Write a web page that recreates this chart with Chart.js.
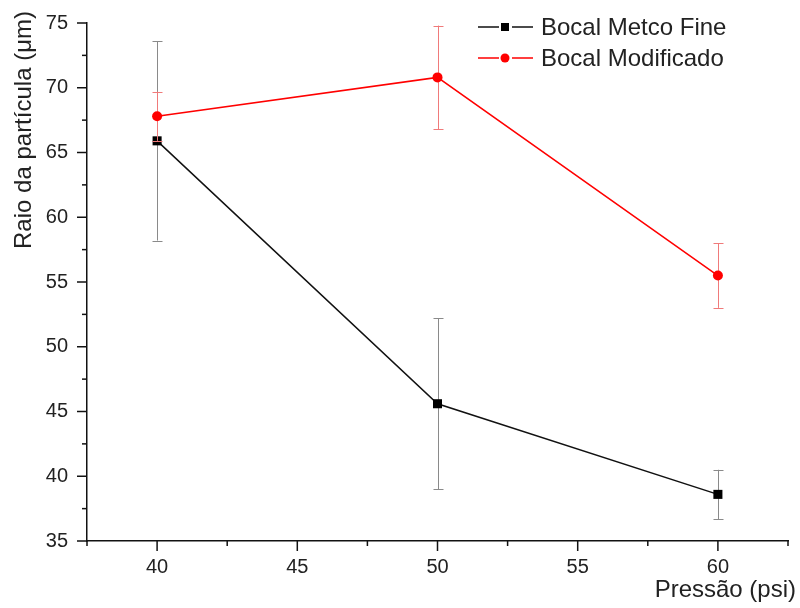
<!DOCTYPE html>
<html>
<head>
<meta charset="utf-8">
<script src="https://cdn.jsdelivr.net/npm/chart.js@4/dist/chart.umd.min.js"></script>
<style>
html,body{margin:0;padding:0;background:#fff;}
#wrap{width:800px;height:608px;position:relative;}
</style>
</head>
<body>
<div id="wrap"><canvas id="c" width="800" height="608"></canvas></div>
<script>
const pressures = [40, 50, 60];
const metcoValues = [65.9, 45.6, 38.6];
const metcoErrors = [7.7, 6.6, 1.9];
const modValues = [67.8, 70.8, 55.5];
const modErrors = [1.9, 4.0, 2.5];
const seriesLabels = ['Bocal Metco Fine', 'Bocal Modificado'];
const xAxisTitle = 'Pressão (psi)';
const yAxisTitle = 'Raio da partícula (μm)';
const xRange = [37.5, 62.5];
const yRange = [35, 75];

const FONT = 'Arial, "Liberation Sans", sans-serif';

function toPoints(xs, ys) { return xs.map((x, i) => ({x: x, y: ys[i]})); }

const errorPlugin = {
  id: 'errorBars',
  beforeDatasetDraw(chart, args) {
    const ds = chart.data.datasets[args.index];
    if (!ds.errors) return;
    const ctx = chart.ctx, xs = chart.scales.x, ys = chart.scales.y;
    ctx.save();
    ctx.strokeStyle = ds.errorColor;
    ctx.lineWidth = 1;
    ds.data.forEach((p, i) => {
      const e = ds.errors[i];
      const px = Math.round(xs.getPixelForValue(p.x)) + 0.5;
      const top = ys.getPixelForValue(p.y + e);
      const bot = ys.getPixelForValue(p.y - e);
      ctx.beginPath();
      ctx.moveTo(px, top); ctx.lineTo(px, bot);
      ctx.moveTo(px - 5, Math.round(top) + 0.5); ctx.lineTo(px + 5, Math.round(top) + 0.5);
      ctx.moveTo(px - 5, Math.round(bot) + 0.5); ctx.lineTo(px + 5, Math.round(bot) + 0.5);
      ctx.stroke();
    });
    ctx.restore();
  }
};

const decorPlugin = {
  id: 'decor',
  afterDraw(chart) {
    const ctx = chart.ctx, xs = chart.scales.x, ys = chart.scales.y;
    const area = chart.chartArea;
    ctx.save();
    ctx.strokeStyle = '#111';
    ctx.lineWidth = 1.5;
    ys.ticks.forEach(t => {
      const v = t.value;
      const py = ys.getPixelForValue(v);
      const len = (Math.abs(v % 5) < 1e-6) ? 10 : 5;
      ctx.beginPath();
      ctx.moveTo(area.left, py); ctx.lineTo(area.left - len, py);
      ctx.stroke();
    });
    xs.ticks.forEach(t => {
      const v = t.value;
      const px = xs.getPixelForValue(v);
      const len = (Math.abs(v % 5) < 1e-6) ? 10 : 5;
      ctx.beginPath();
      ctx.moveTo(px, area.bottom); ctx.lineTo(px, area.bottom + len);
      ctx.stroke();
    });
    ctx.fillStyle = '#222';
    ctx.font = '24px ' + FONT;
    ctx.textAlign = 'right';
    ctx.textBaseline = 'middle';
    ctx.fillText(xAxisTitle, 796, 590);
    ctx.save();
    ctx.translate(24, 130);
    ctx.rotate(-Math.PI / 2);
    ctx.textAlign = 'center';
    ctx.fillText(yAxisTitle, 0, 0);
    ctx.restore();
    const rows = [27, 58];
    chart.data.datasets.slice().sort((a, b) => a.legendIndex - b.legendIndex).forEach((ds, i) => {
      const y = rows[i];
      ctx.strokeStyle = ds.borderColor;
      ctx.lineWidth = 1.5;
      ctx.beginPath();
      ctx.moveTo(478, y); ctx.lineTo(499, y);
      ctx.moveTo(512, y); ctx.lineTo(533, y);
      ctx.stroke();
      ctx.fillStyle = ds.pointBackgroundColor;
      if (ds.pointStyle === 'rect') {
        ctx.fillRect(501, y - 4, 8, 8);
      } else {
        ctx.beginPath(); ctx.arc(505, y, 4.5, 0, Math.PI * 2); ctx.fill();
      }
      ctx.fillStyle = '#222';
      ctx.font = '24px ' + FONT;
      ctx.textAlign = 'left';
      ctx.textBaseline = 'middle';
      ctx.fillText(ds.label, 541, y + 1);
    });
    ctx.restore();
  }
};

new Chart(document.getElementById('c'), {
  type: 'scatter',
  data: {
    datasets: [
      {
        label: seriesLabels[1],
        legendIndex: 1,
        data: toPoints(pressures, modValues),
        errors: modErrors,
        errorColor: '#f07a7a',
        showLine: true,
        borderColor: '#ff0000',
        backgroundColor: '#ff0000',
        pointBackgroundColor: '#ff0000',
        pointBorderColor: '#ff0000',
        borderWidth: 1.5,
        pointStyle: 'circle',
        pointRadius: 5,
        pointBorderWidth: 0
      },
      {
        label: seriesLabels[0],
        legendIndex: 0,
        data: toPoints(pressures, metcoValues),
        errors: metcoErrors,
        errorColor: '#8a8a8a',
        showLine: true,
        borderColor: '#111111',
        backgroundColor: '#000000',
        pointBackgroundColor: '#000000',
        pointBorderColor: '#000000',
        borderWidth: 1.5,
        pointStyle: 'rect',
        pointRadius: 6.4,
        pointBorderWidth: 0
      }
    ]
  },
  options: {
    responsive: false,
    animation: false,
    events: [],
    layout: { padding: { top: 23, right: 12, left: 0, bottom: 0 } },
    plugins: { legend: { display: false }, tooltip: { enabled: false } },
    scales: {
      x: {
        type: 'linear',
        min: xRange[0], max: xRange[1],
        grid: { display: false },
        border: { display: true, color: '#111', width: 1.5 },
        ticks: {
          stepSize: 2.5, autoSkip: false, maxRotation: 0, padding: 6,
          color: '#222', font: { family: FONT, size: 20 },
          callback: v => (Math.abs(v % 5) < 1e-6 ? String(v) : '')
        },
        afterFit: s => { s.height = 67; s.paddingLeft = 0; s.paddingRight = 0; }
      },
      y: {
        type: 'linear',
        min: yRange[0], max: yRange[1],
        grid: { display: false },
        border: { display: true, color: '#111', width: 1.5 },
        ticks: {
          stepSize: 2.5, autoSkip: false, padding: 11,
          color: '#222', font: { family: FONT, size: 20 },
          callback: v => (Math.abs(v % 5) < 1e-6 ? String(v) : '')
        },
        afterFit: s => { s.width = 87; s.paddingTop = 0; s.paddingBottom = 0; }
      }
    }
  },
  plugins: [errorPlugin, decorPlugin]
});
</script>
</body>
</html>
